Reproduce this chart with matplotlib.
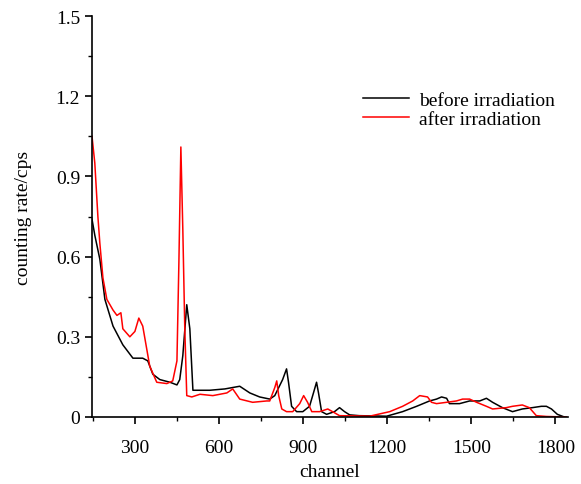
import numpy as np
import matplotlib
matplotlib.use("Agg")
import matplotlib.pyplot as plt
from matplotlib.ticker import MultipleLocator

plt.rcParams['font.family'] = ['Liberation Serif', 'DejaVu Serif']

# spectrum (channel, counting rate)
before_ch = [147, 157, 175, 193, 222, 257, 293, 328, 346, 364, 389, 425, 450, 460,
             471, 485, 496, 507, 567, 621, 674, 710, 745, 781, 799, 827, 841, 848,
             859, 877, 899, 923, 937, 948, 955, 966, 984, 1012, 1030, 1048, 1066,
             1100, 1198, 1255, 1305, 1351, 1376, 1394, 1412, 1422, 1458, 1494, 1530,
             1554, 1576, 1611, 1647, 1682, 1718, 1750, 1768, 1786, 1807, 1832]
before_val = [0.74, 0.68, 0.59, 0.44, 0.34, 0.27, 0.22, 0.22, 0.21, 0.16, 0.14, 0.13,
              0.12, 0.14, 0.23, 0.42, 0.33, 0.10, 0.10, 0.105, 0.115, 0.09, 0.075,
              0.067, 0.08, 0.14, 0.18, 0.13, 0.04, 0.02, 0.02, 0.04, 0.09, 0.13, 0.09,
              0.02, 0.01, 0.02, 0.035, 0.02, 0.008, 0.005, 0.003, 0.02, 0.04, 0.06,
              0.067, 0.075, 0.07, 0.05, 0.05, 0.06, 0.06, 0.07, 0.055, 0.035, 0.02,
              0.03, 0.035, 0.04, 0.04, 0.03, 0.01, 0.0]

after_ch = [147, 157, 168, 175, 186, 200, 222, 236, 250, 257, 282, 300, 314, 328, 343,
            353, 378, 414, 435, 450, 457, 464, 471, 478, 485, 503, 532, 578, 628, 649,
            674, 720, 770, 781, 799, 806, 813, 824, 841, 863, 888, 902, 916, 931, 959,
            988, 1005, 1030, 1137, 1209, 1255, 1291, 1316, 1344, 1358, 1376, 1412,
            1447, 1469, 1494, 1519, 1554, 1576, 1625, 1647, 1682, 1707, 1732, 1768, 1839]
after_val = [1.05, 0.95, 0.75, 0.65, 0.52, 0.44, 0.40, 0.38, 0.39, 0.33, 0.30, 0.32,
             0.37, 0.34, 0.25, 0.19, 0.13, 0.125, 0.135, 0.21, 0.58, 1.01, 0.70, 0.33,
             0.08, 0.075, 0.085, 0.08, 0.09, 0.105, 0.067, 0.055, 0.06, 0.06, 0.11,
             0.135, 0.08, 0.03, 0.02, 0.02, 0.05, 0.08, 0.055, 0.02, 0.02, 0.03, 0.02,
             0.005, 0.003, 0.02, 0.04, 0.06, 0.08, 0.075, 0.055, 0.05, 0.055, 0.06,
             0.067, 0.067, 0.055, 0.04, 0.03, 0.035, 0.04, 0.045, 0.035, 0.005, 0.002, 0.0]

x_ticks = [300, 600, 900, 1200, 1500, 1800]
y_ticks = [0, 0.3, 0.6, 0.9, 1.2, 1.5]
y_labels = ['0', '0.3', '0.6', '0.9', '1.2', '1.5']

fig = plt.figure(figsize=(5.81, 4.85), dpi=100)
ax = fig.add_axes([92 / 581, 1 - 418 / 485, (568 - 92) / 581, (418 - 17) / 485])

ax.plot(before_ch, before_val, color='black', lw=1.1, label='before irradiation')
ax.plot(after_ch, after_val, color='red', lw=1.1, label='after irradiation')

ax.set_xlim(147, 1845)
ax.set_ylim(0, 1.5)
ax.set_xticks(x_ticks)
ax.xaxis.set_minor_locator(MultipleLocator(150))
ax.set_yticks(y_ticks)
ax.set_yticklabels(y_labels)
ax.yaxis.set_minor_locator(MultipleLocator(0.15))

for s in ['top', 'right']:
    ax.spines[s].set_visible(False)
for s in ['left', 'bottom']:
    ax.spines[s].set_linewidth(1.2)
ax.tick_params(which='major', direction='out', length=5, width=1.2, labelsize=14)
ax.tick_params(which='minor', direction='out', length=3, width=1.0)
ax.tick_params(axis='x', which='major', pad=11)

ax.set_xlabel('channel', fontsize=14, labelpad=5)
ax.set_ylabel('counting rate/cps', fontsize=14, labelpad=17)

fig.legend(loc='upper left', bbox_to_anchor=(345 / 581, 1 - 75 / 485), frameon=False,
           fontsize=14, handlelength=2.4, handletextpad=0.5, labelspacing=0.05)

fig.savefig('out.png', dpi=100)
